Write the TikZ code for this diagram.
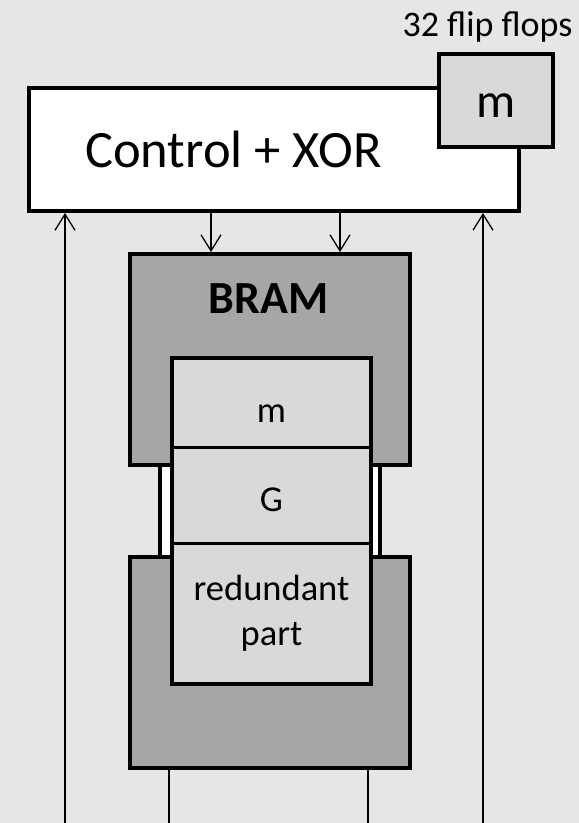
\documentclass[tikz,border=0pt]{standalone}
\usepackage{fontspec}
\setmainfont{Carlito}
\usetikzlibrary{arrows.meta}
\definecolor{pagegray}{HTML}{E7E6E6}
\definecolor{bramgray}{HTML}{A6A6A6}
\definecolor{cellgray}{HTML}{D9D9D9}

\begin{document}
\begin{tikzpicture}[x=1pt,y=-1pt,
  blk/.style={draw=black, line width=4pt, rectangle, inner sep=0pt},
  wire/.style={line width=1.3pt},
  arr/.style={wire, -{Straight Barb[length=16pt,width=20pt]}},
  lbl/.style={inner sep=0pt, anchor=base, font=\fontsize{#1}{\fpeval{#1*1.22}}\selectfont}
]
% page background
\fill[pagegray] (0,0) rectangle (579,823);
\useasboundingbox (0,0) rectangle (579,823);

% white strip joining the two BRAM halves
\node[blk, line width=3.5pt, fill=white, minimum width=220pt, minimum height=140pt] (gap) at (270,510) {};

% BRAM halves
\node[blk, fill=bramgray, minimum width=280pt, minimum height=211pt] (bramTop) at (270,359.5) {};
\node[blk, fill=bramgray, minimum width=280pt, minimum height=211pt] (bramBot) at (270,662.5) {};

% memory contents
\node[blk, fill=cellgray, minimum width=199pt, minimum height=326pt] (cells) at (271.5,521) {};
\coordinate (d1) at (0,447);
\coordinate (d2) at (0,543);
\draw[line width=3pt] (cells.west |- d1) -- (cells.east |- d1);
\draw[line width=3pt] (cells.west |- d2) -- (cells.east |- d2);

% control block and register
\node[blk, fill=white, minimum width=490pt, minimum height=123pt] (ctrl) at (274,149.5) {};
\node[blk, fill=cellgray, minimum width=114pt, minimum height=93pt] (reg) at (496,100.5) {};

% connectors
\coordinate (inL) at (65,823);
\coordinate (inR) at (483,823);
\coordinate (dnA) at (211,0);
\coordinate (dnB) at (340,0);
\coordinate (outL) at (169,823);
\coordinate (outR) at (368,823);
\draw[arr] (inL) -- (inL |- ctrl.south);
\draw[arr] (inR) -- (inR |- ctrl.south);
\draw[arr] (ctrl.south -| dnA) -- (bramTop.north -| dnA);
\draw[arr] (ctrl.south -| dnB) -- (bramTop.north -| dnB);
\draw[wire] (bramBot.south -| outL) -- (outL);
\draw[wire] (bramBot.south -| outR) -- (outR);

% labels (multi-line labels are anchored at the baseline of their last line)
\node[lbl=52.5] (ctrlT) at (233.5,167) {Control + XOR};
\node[lbl=36] (ffT) at (487.5,36) {32 flip flops};
\node[lbl=49] (regT) at (496,117) {m};
\node[lbl=46, font=\fontsize{46}{56}\selectfont\bfseries] (bramT) at (268.5,313) {BRAM};
\node[lbl=36.5] (mT) at (271.5,422) {m};
\node[lbl=36.5] (gT) at (271.5,511) {G};
\node[lbl=36.5, align=center] (redT) at (271.5,645) {redundant\\part};
\end{tikzpicture}
\end{document}
